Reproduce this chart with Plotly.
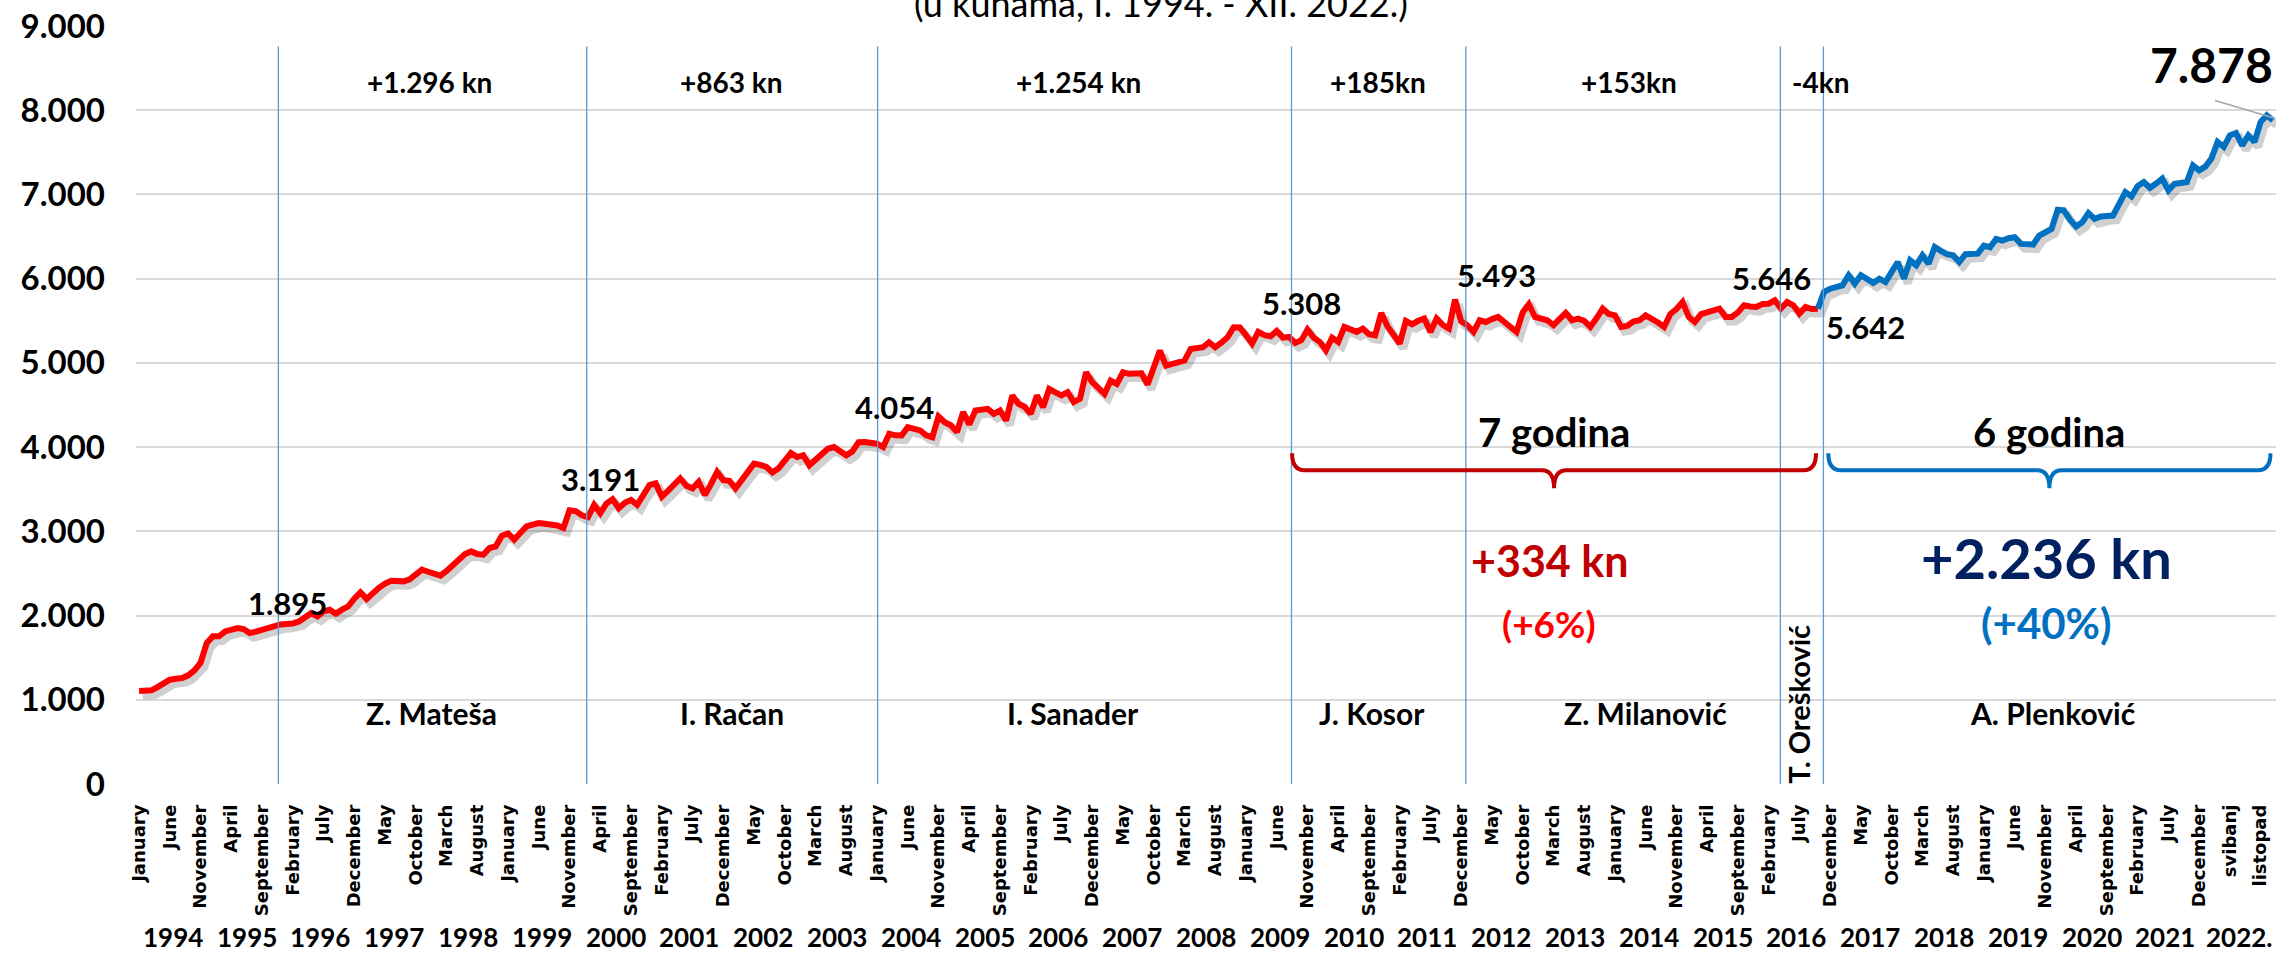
import plotly.graph_objects as go

# ---------------- data ----------------
months_en = ["January", "February", "March", "April", "May", "June", "July",
             "August", "September", "October", "November", "December"]
months_hr_2022 = {4: "svibanj", 9: "listopad"}
years = list(range(1994, 2023))
year_labels = [str(y) for y in years[:-1]] + ["2022."]

v1994 = [1105, 1110, 1112, 1150, 1200, 1238, 1250, 1258, 1290, 1350, 1440, 1673]
v1995 = [1753, 1753, 1812, 1830, 1852, 1840, 1792, 1810, 1832, 1860, 1880, 1895]
v1996 = [1900, 1905, 1930, 1990, 2030, 1990, 2050, 2069, 2022, 2070, 2109, 2200]
v1997 = [2275, 2196, 2267, 2330, 2380, 2414, 2410, 2406, 2430, 2490, 2545, 2520]
v1998 = [2490, 2473, 2530, 2604, 2660, 2730, 2762, 2730, 2723, 2802, 2822, 2949]
v1999 = [2975, 2902, 2980, 3059, 3080, 3098, 3090, 3079, 3070, 3040, 3250, 3240]
v2000 = [3191, 3169, 3314, 3216, 3330, 3381, 3275, 3340, 3373, 3314, 3450, 3549]
v2001 = [3569, 3412, 3480, 3549, 3628, 3540, 3510, 3588, 3432, 3560, 3706, 3608]
v2002 = [3600, 3510, 3600, 3686, 3804, 3790, 3765, 3700, 3750, 3840, 3929, 3882]
v2003 = [3902, 3784, 3850, 3930, 3980, 4000, 3960, 3902, 3950, 4059, 4060, 4054]
v2004 = [4040, 4000, 4158, 4140, 4138, 4237, 4220, 4198, 4140, 4118, 4364, 4296]
v2005 = [4260, 4178, 4415, 4269, 4435, 4440, 4454, 4395, 4435, 4316, 4613, 4514]
v2006 = [4480, 4395, 4613, 4474, 4692, 4650, 4613, 4652, 4534, 4573, 4889, 4771]
v2007 = [4700, 4632, 4790, 4751, 4889, 4870, 4875, 4877, 4743, 4950, 5146, 4968]
v2008 = [4988, 5000, 5028, 5166, 5170, 5186, 5245, 5186, 5240, 5304, 5423, 5420]
v2009 = [5330, 5229, 5368, 5330, 5316, 5379, 5300, 5308, 5237, 5269, 5395, 5300]
v2010 = [5250, 5150, 5300, 5249, 5427, 5400, 5368, 5407, 5340, 5328, 5593, 5435]
v2011 = [5330, 5229, 5498, 5458, 5500, 5526, 5368, 5526, 5450, 5407, 5751, 5493]
v2012 = [5447, 5368, 5506, 5486, 5520, 5545, 5486, 5430, 5368, 5600, 5696, 5545]
v2013 = [5530, 5506, 5447, 5530, 5593, 5506, 5526, 5500, 5427, 5530, 5644, 5580]
v2014 = [5565, 5427, 5440, 5490, 5506, 5565, 5526, 5480, 5427, 5580, 5640, 5723]
v2015 = [5545, 5486, 5580, 5605, 5630, 5644, 5545, 5545, 5600, 5684, 5670, 5664]
v2016 = [5700, 5703, 5743, 5646, 5723, 5684, 5585, 5664, 5640, 5642, 5842, 5881]
v2017 = [5910, 5921, 6040, 5941, 6040, 6000, 5950, 6000, 5960, 6080, 6198, 6000]
v2018 = [6218, 6160, 6277, 6178, 6376, 6330, 6290, 6277, 6198, 6290, 6297, 6297]
v2019 = [6393, 6373, 6472, 6452, 6480, 6492, 6413, 6410, 6405, 6512, 6560, 6591]
v2020 = [6818, 6810, 6700, 6619, 6671, 6778, 6710, 6738, 6745, 6750, 6889, 7028]
v2021 = [6976, 7100, 7147, 7079, 7130, 7187, 7048, 7127, 7135, 7147, 7345, 7286]
v2022 = [7330, 7425, 7623, 7564, 7702, 7730, 7583, 7702, 7623, 7861, 7940, 7878]

# government change positions (month index) and labels
gov_lines = [22.65, 72.8, 120.1, 187.4, 215.75, 266.9, 273.9]
gov_names = ["Z. Mateša", "I. Račan", "I. Sanader", "J. Kosor", "Z. Milanović", "A. Plenković"]
gov_name_x = [47.6, 96.4, 151.9, 200.5, 244.9, 311.1]
gov_change = ["+1.296 kn", "+863 kn", "+1.254 kn", "+185kn", "+153kn", "-4kn"]
gov_change_x = [47.2, 96.4, 152.7, 201.5, 242.3, 273.5]

# highlighted values: (label, label x, label y)
point_labels = [("1.895", 24.2, 2148), ("3.191", 75.0, 3619), ("4.054", 122.8, 4473),
                ("5.308", 189.0, 5707), ("5.493", 220.7, 6040), ("5.646", 265.4, 6010),
                ("5.642", 280.7, 5422)]
split_idx = 273  # start of Plenković period (blue)

# ---------------- build ----------------
all_vals = (v1994 + v1995 + v1996 + v1997 + v1998 + v1999 + v2000 + v2001 + v2002 + v2003 +
            v2004 + v2005 + v2006 + v2007 + v2008 + v2009 + v2010 + v2011 + v2012 + v2013 +
            v2014 + v2015 + v2016 + v2017 + v2018 + v2019 + v2020 + v2021 + v2022)
xs = list(range(len(all_vals)))

RED = "#FF0000"
DRED = "#C00000"
BLUE = "#0070C0"
NAVY = "#002060"
VLINE = "#5B9BD5"
FONT = "Lato"

fig = go.Figure()

# soft shadow under the line
sdx, sdy = 0.6, -55
fig.add_trace(go.Scatter(x=[x + sdx for x in xs], y=[v + sdy for v in all_vals], mode="lines",
                         line=dict(color="rgba(40,40,40,0.22)", width=8), hoverinfo="skip",
                         showlegend=False))
fig.add_trace(go.Scatter(x=xs[:split_idx + 1], y=all_vals[:split_idx + 1], mode="lines",
                         line=dict(color=RED, width=6), showlegend=False))
fig.add_trace(go.Scatter(x=xs[split_idx:], y=all_vals[split_idx:], mode="lines",
                         line=dict(color=BLUE, width=6), showlegend=False))

shapes = []
for gx in gov_lines:
    shapes.append(dict(type="line", xref="x", yref="y", x0=gx, x1=gx, y0=0, y1=8757,
                       line=dict(color=VLINE, width=1.3), layer="above"))
for k in range(len(years) + 1):
    xb = 12 * k - 0.5
    shapes.append(dict(type="line", xref="x", yref="y", x0=xb, x1=xb, y0=0, y1=-2020,
                       line=dict(color="#D9D9D9", width=1.5), layer="below"))


def brace(x0, x1, top, mid, tip, r, color):
    xc = (x0 + x1) / 2
    p = (f"M {x0},{top} Q {x0},{mid} {x0 + r},{mid} L {xc - r},{mid} "
         f"Q {xc},{mid} {xc},{tip} Q {xc},{mid} {xc + r},{mid} L {x1 - r},{mid} "
         f"Q {x1},{mid} {x1},{top}")
    return dict(type="path", xref="x", yref="y", path=p, line=dict(color=color, width=4))


shapes.append(brace(187.5, 272.7, 3927, 3726, 3512, 2.0, DRED))
shapes.append(brace(274.7, 346.6, 3927, 3726, 3512, 2.0, BLUE))
shapes.append(dict(type="line", xref="x", yref="y", x0=337.6, y0=8116, x1=347.4, y1=7902,
                   line=dict(color="#A6A6A6", width=1.5)))

ann = []


def add_text(x, y, text, size, color="black", bold=True, angle=0, yref="y"):
    ann.append(dict(x=x, y=y, xref="x", yref=yref, text=text, showarrow=False,
                    textangle=angle, xanchor="center", yanchor="middle",
                    font=dict(family=FONT, size=size, color=color,
                              weight="bold" if bold else "normal")))


add_text(166.2, 1.0297, "(u kunama, I. 1994. - XII. 2022.)", 36, bold=False, yref="paper")
for t, x in zip(gov_change, gov_change_x):
    add_text(x, 8341, t, 28)
for t, x in zip(gov_names, gov_name_x):
    add_text(x, 845, t, 30)
add_text(269.9, 950, "T. Orešković", 29, angle=-90)
for t, x, y in point_labels:
    add_text(x, y, t, 31)
add_text(337.0, 8545, "7.878", 48)
add_text(230.1, 4176, "7 godina", 40)
add_text(310.6, 4176, "6 godina", 40)
add_text(229.3, 2658, "+334 kn", 43, color=DRED)
add_text(229.3, 1910, "(+6%)", 37, color=RED)
add_text(310.1, 2693, "+2.236 kn", 56, color=NAVY)
add_text(310.1, 1910, "(+40%)", 42, color=BLUE)
for k, yl in enumerate(year_labels):
    add_text(12 * k + 5.5, -0.2025, yl, 26, yref="paper")

tickvals, ticktext = [], []
for i in range(0, len(all_vals), 5):
    m = i % 12
    yr = years[i // 12]
    name = months_hr_2022.get(m, months_en[m]) if yr == 2022 else months_en[m]
    tickvals.append(i)
    ticktext.append(name)

ytickvals = list(range(0, 9001, 1000))
yticktext = ["0"] + [f"{v // 1000}.000" for v in ytickvals[1:]]

fig.update_layout(
    width=2282, height=954,
    margin=dict(l=136, r=6, t=26, b=170),
    plot_bgcolor="white", paper_bgcolor="white",
    shapes=shapes, annotations=ann,
    xaxis=dict(range=[-0.5, len(all_vals) - 0.5], tickvals=tickvals, ticktext=ticktext,
               tickangle=-90, showgrid=False, zeroline=False, showline=False, ticks="",
               ticklabelstandoff=16,
               tickfont=dict(family="DejaVu Sans", size=18, color="black", weight="bold")),
    yaxis=dict(range=[0, 9000], tickvals=ytickvals, ticktext=yticktext,
               showgrid=True, gridcolor="#D9D9D9", gridwidth=2, zeroline=False,
               showline=False, ticks="", ticklabelstandoff=30,
               tickfont=dict(family=FONT, size=33, color="black", weight="bold")),
)

fig.write_html("out.html", config={"displayModeBar": False},
               post_script="document.body.style.margin='0';")
